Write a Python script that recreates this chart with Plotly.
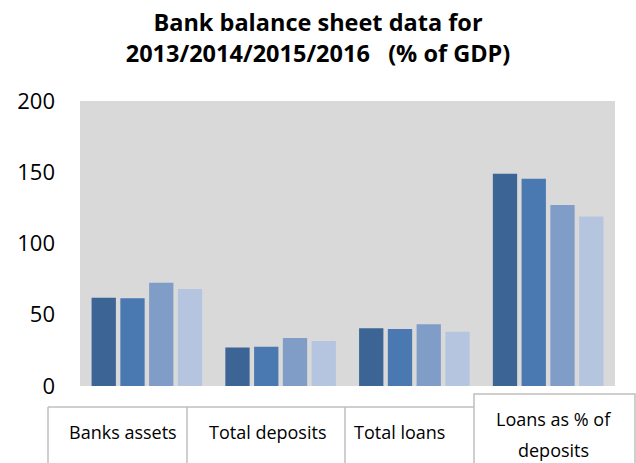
import plotly.graph_objects as go

categories = ["Banks assets", "Total deposits", "Total loans", "Loans as % of deposits"]
years = ["2013", "2014", "2015", "2016"]
values_2013 = [62, 27, 40.5, 149]
values_2014 = [61.5, 27.5, 40, 145.5]
values_2015 = [72.5, 33.7, 43.3, 127]
values_2016 = [68, 31.6, 38, 119]
series = [values_2013, values_2014, values_2015, values_2016]
colors = ["#3C6595", "#4A78B0", "#809DC8", "#B5C5E0"]

FONT = "Open Sans"
W, H = 636, 463
L, R, T, B = 80, 21, 101, 77
pw, ph = W - L - R, H - T - B

def px(x):
    return (x - L) / pw

def py(y):
    return (H - B - y) / ph

fig = go.Figure()
for yr, vals, c in zip(years, series, colors):
    fig.add_trace(go.Bar(x=categories, y=vals, name=yr, marker=dict(color=c, line=dict(width=0))))

fig.update_layout(
    width=W, height=H,
    margin=dict(l=L, r=R, t=T, b=B),
    paper_bgcolor="white", plot_bgcolor="#D9D9D9",
    barmode="group", bargap=0.14, bargroupgap=0.155,
    showlegend=False,
    font=dict(family=FONT, color="black"),
    title=dict(
        text="<b>Bank balance sheet data for<br>2013/2014/2015/2016\u00a0\u00a0\u00a0(% of GDP)</b>",
        x=0.5, xanchor="center", xref="container",
        y=1 - 31 / H, yanchor="top", yref="container",
        font=dict(family=FONT, size=23.5, color="black"),
    ),
    xaxis=dict(showticklabels=False, showgrid=False, zeroline=False, showline=False, ticks=""),
    yaxis=dict(range=[0, 200], tickvals=[0, 50, 100, 150, 200], showgrid=False, zeroline=False,
               showline=False, ticks="", ticklabelstandoff=24,
               tickfont=dict(family=FONT, size=22, color="black")),
)

border = "#BFBFBF"
# cells 1-3 borders
fig.add_shape(type="line", xref="paper", yref="paper", x0=px(48), x1=px(474), y0=py(407), y1=py(407),
              line=dict(color=border, width=1.5))
for xv in [48, 187, 345]:
    fig.add_shape(type="line", xref="paper", yref="paper", x0=px(xv), x1=px(xv), y0=py(407), y1=py(470),
                  line=dict(color=border, width=1.5))
# cell 4 raised box
fig.add_shape(type="rect", xref="paper", yref="paper", x0=px(474), x1=px(635), y0=py(394), y1=py(470),
              line=dict(color=border, width=1.5), fillcolor="white")

label_pos = [(123, 432), (267, 432), (399, 432), (553, 419), (553, 450)]
label_text = ["Banks assets", "Total deposits", "Total loans", "Loans as % of", "deposits"]
for (xv, yv), t in zip(label_pos, label_text):
    fig.add_annotation(x=px(xv), y=py(yv), xref="paper", yref="paper", text=t, showarrow=False,
                       xanchor="center", yanchor="middle", align="center",
                       font=dict(family=FONT, size=18, color="black"))

fig.write_html("out.html")
